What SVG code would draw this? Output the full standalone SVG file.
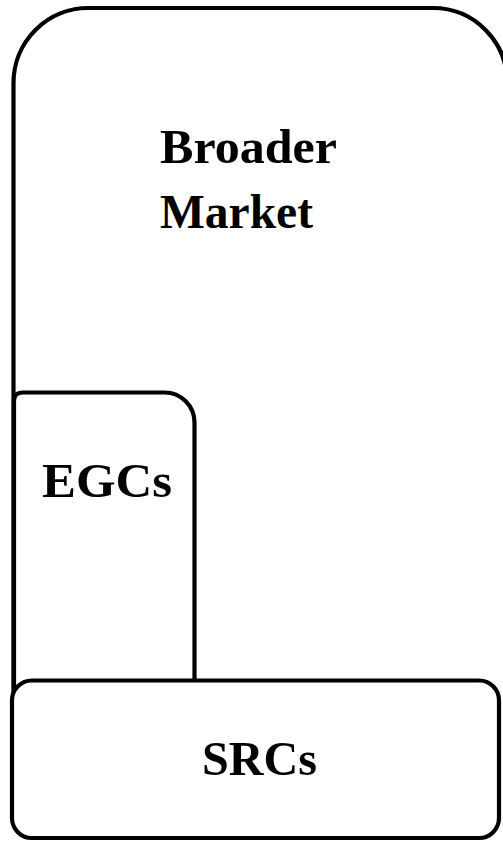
<svg xmlns="http://www.w3.org/2000/svg" width="503" height="841" viewBox="0 0 503 841">
<style>
.shape{fill:#fff;stroke:#000;stroke-width:4.2;stroke-linejoin:round}
.lbl{font-family:"Liberation Serif","Times New Roman",serif;font-weight:bold;font-size:48px;fill:#000}
</style>
<rect width="503" height="841" fill="#fff"/>
<g id="broader-market">
<path class="shape" d="M13.5,800 V83 A75,75 0 0 1 88.5,8 H433 A74,74 0 0 1 507,82 V800"/>
<text class="lbl" x="160" y="163" textLength="177" lengthAdjust="spacingAndGlyphs">Broader</text>
<text class="lbl" x="160" y="228" textLength="153" lengthAdjust="spacingAndGlyphs">Market</text>
</g>
<g id="egcs">
<path class="shape" d="M14,690 V401 Q14,392.5 23,392.5 H164.5 A30,30 0 0 1 194.5,422.5 V690"/>
<text class="lbl" x="42" y="497" textLength="130" lengthAdjust="spacingAndGlyphs">EGCs</text>
</g>
<g id="srcs">
<rect class="shape" x="12" y="680.5" width="487" height="157.5" rx="20" ry="20"/>
<text class="lbl" x="202" y="775" textLength="115" lengthAdjust="spacingAndGlyphs">SRCs</text>
</g>
<g id="connectors"></g>
</svg>
